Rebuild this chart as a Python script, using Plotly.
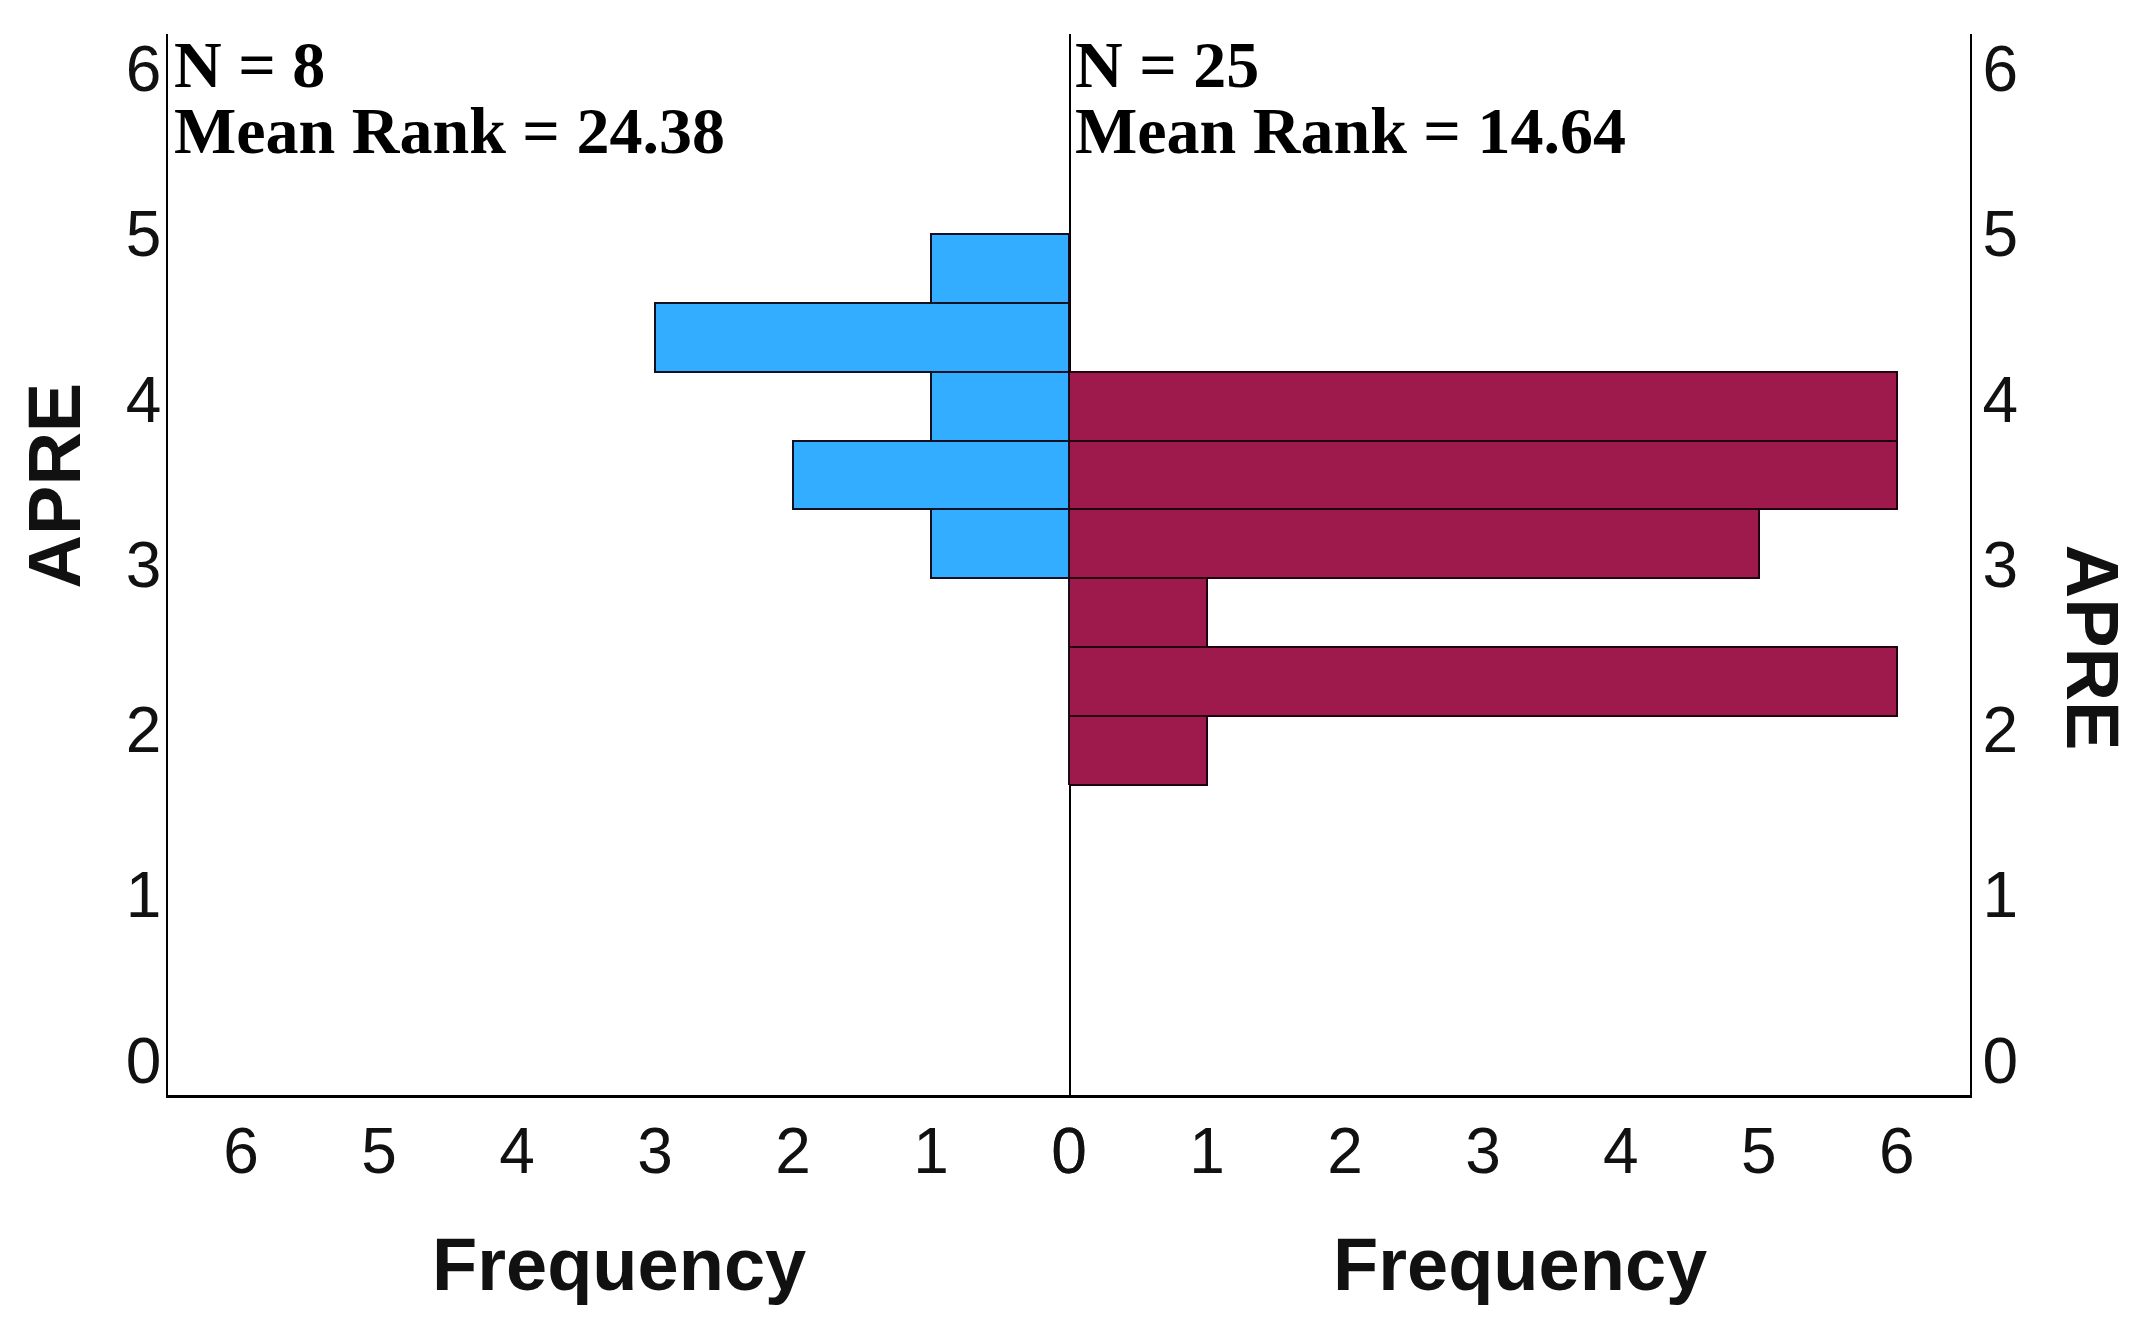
import plotly.graph_objects as go

# Bin centres (APRE), bin width 5/12
bin_width = 5 / 12
bin_lower_edges = [1.6667, 2.0833, 2.5, 2.9167, 3.3333, 3.75, 4.1667, 4.5833]
bin_centers = [e + bin_width / 2 for e in bin_lower_edges]

# Frequencies per bin
left_counts = [0, 0, 0, 1, 2, 1, 3, 1]    # N = 8
right_counts = [1, 6, 1, 5, 6, 6, 0, 0]   # N = 25

left_label = ["N = 8", "Mean Rank = 24.38"]
right_label = ["N = 25", "Mean Rank = 14.64"]

y_ticks = [0, 1, 2, 3, 4, 5, 6]
x_ticks = [0, 1, 2, 3, 4, 5, 6]

BLUE = "#33ADFF"
MAROON = "#9E1A4C"

fig = go.Figure()
fig.add_trace(go.Bar(
    y=bin_centers, x=left_counts, orientation="h", width=bin_width,
    marker=dict(color=BLUE, line=dict(color="#111122", width=2)),
    xaxis="x", yaxis="y", showlegend=False, hoverinfo="x+y",
))
fig.add_trace(go.Bar(
    y=bin_centers, x=right_counts, orientation="h", width=bin_width,
    marker=dict(color=MAROON, line=dict(color="#220011", width=2)),
    xaxis="x2", yaxis="y2", showlegend=False, hoverinfo="x+y",
))

tick_font = dict(family="Liberation Sans, Arial, sans-serif", size=64, color="#111")
title_font = dict(family="Liberation Sans, Arial, sans-serif", size=74, color="#111")
serif_font = dict(family="Liberation Serif, Times New Roman, serif", size=66, color="#000")

yrange = [-0.21, 6.21]
xmax = 6.53

fig.update_layout(
    width=2140, height=1333,
    margin=dict(l=160, r=178, t=26, b=246),
    paper_bgcolor="white", plot_bgcolor="white",
    bargap=0,
    xaxis=dict(domain=[0, 0.5], range=[xmax, 0], tickvals=x_ticks,
               showgrid=False, zeroline=False, showline=True, linecolor="#000",
               linewidth=3, tickfont=tick_font, ticks="", ticklabelstandoff=-2,
               fixedrange=True),
    xaxis2=dict(domain=[0.5, 1], range=[0, xmax], tickvals=x_ticks,
                showgrid=False, zeroline=False, showline=True, linecolor="#000",
                linewidth=3, tickfont=tick_font, ticks="", ticklabelstandoff=-2,
                anchor="y2", fixedrange=True),
    yaxis=dict(range=yrange, tickvals=y_ticks, showgrid=False, zeroline=False,
               showline=True, mirror=True, linecolor="#000", linewidth=1.5,
               tickfont=tick_font, ticks="", ticklabelstandoff=-8, anchor="x",
               fixedrange=True),
    yaxis2=dict(range=yrange, tickvals=y_ticks, showgrid=False, zeroline=False,
                showline=True, linecolor="#000", linewidth=1.5, side="right",
                tickfont=tick_font, ticks="", ticklabelstandoff=-2, anchor="x2",
                fixedrange=True),
)

annotations = [
    dict(text="<b>Frequency</b>", x=0.25, y=-0.16, xref="paper", yref="paper",
         showarrow=False, font=title_font, xanchor="center", yanchor="middle"),
    dict(text="<b>Frequency</b>", x=0.75, y=-0.16, xref="paper", yref="paper",
         showarrow=False, font=title_font, xanchor="center", yanchor="middle"),
    dict(text="<b>APRE</b>", x=-0.063, y=0.575, xref="paper", yref="paper",
         showarrow=False, font=title_font, textangle=-90,
         xanchor="center", yanchor="middle"),
    dict(text="<b>APRE</b>", x=1.068, y=0.422, xref="paper", yref="paper",
         showarrow=False, font=title_font, textangle=90,
         xanchor="center", yanchor="middle"),
]
for lab, xa in [(left_label, 0.0), (right_label, 0.5)]:
    annotations.append(dict(text="<b>" + lab[0] + "</b>", x=xa + 0.002, y=0.971,
                            xref="paper", yref="paper", showarrow=False,
                            font=serif_font, xanchor="left", yanchor="middle"))
    annotations.append(dict(text="<b>" + lab[1] + "</b>", x=xa + 0.002, y=0.909,
                            xref="paper", yref="paper", showarrow=False,
                            font=serif_font, xanchor="left", yanchor="middle"))
fig.update_layout(annotations=annotations)

fig.write_html("out.html")
